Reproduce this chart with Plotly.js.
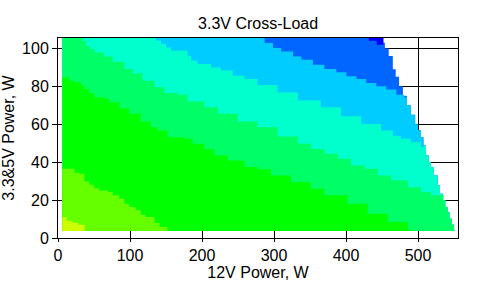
<!DOCTYPE html>
<html>
<head>
<meta charset="utf-8">
<script src="https://cdn.plot.ly/plotly-3.0.1.min.js"></script>
<style>html,body{margin:0;padding:0;background:#fff;}#chart{width:487px;height:286px;}</style>
</head>
<body>
<div id="chart"></div>
<script>
// ---- data (W) ----
const X_TICKS = [0, 100, 200, 300, 400, 500];
const Y_TICKS = [0, 20, 40, 60, 80, 100];
const BAND_COLORS = ["#ccff00", "#66ff00", "#00ff00", "#00ff66", "#00ffcc", "#00ccff", "#0066ff", "#0000ff"];

// measured extent of the load region
const XMIN = 6, YMIN = 3.7, YTOP = 106;
// right-hand limit of the load region (ascending 3.3&5V power)
const EDGE_X = [551, 550, 547, 543.5, 541, 537.8, 534.7, 530.5, 527, 521.8, 518, 515, 511, 507.5, 504, 500, 496, 490, 484.5, 479, 473.6, 469, 465, 459.3, 454, 451, 448.6];
const EDGE_Y = [3.7, 4, 7, 10.2, 13.7, 16.3, 20, 23.4, 27.7, 33, 37.4, 40, 43.5, 48.8, 53.2, 57, 60, 65, 70, 75, 80, 85, 89, 96, 100, 103, 106];

// boundaries between colour bands
const B1_X = [6, 10, 12, 20, 28, 37, 37];
const B1_Y = [11, 11, 9, 8, 7, 6, 3.7];
const B2_X = [6, 18, 22.7, 29.7, 36.6, 43.6, 50.5, 57.5, 69, 76, 85, 92, 99, 108, 115, 122, 134, 141, 152];
const B2_Y = [36.5, 36.5, 34.4, 33.9, 29.8, 28.1, 26.3, 25.1, 24.2, 22.5, 20.7, 18.1, 16.3, 14.6, 12.3, 11.1, 8.1, 5.8, 3.7];
const B3_X = [6, 13.5, 15.8, 22.7, 32, 36.6, 43.6, 50.5, 64.4, 71.4, 85.3, 99, 115, 129, 138.5, 152, 175.5, 187, 203, 217, 235.7, 259, 277, 296, 323.6, 351, 370, 402, 430, 458, 486, 490];
const B3_Y = [84.7, 84.7, 83, 82.1, 80.4, 78.6, 76.5, 74.2, 73.4, 71.6, 68.4, 65.5, 61.4, 58.4, 56.7, 53.2, 52.3, 49.7, 47, 43.5, 40.9, 37.4, 36.2, 33, 29.5, 26, 22.5, 18.1, 12.8, 8.4, 4.4, 3.7];
const B4_X = [28.8, 34.3, 39, 43.6, 50.5, 64.4, 76, 92.2, 103.8, 117.6, 134, 147.8, 166, 180, 203, 222, 249.6, 277, 305, 333, 351, 370, 388.5, 407, 425.5, 444, 462.5, 485.7, 504, 518, 535.5];
const B4_Y = [106, 104, 101.4, 99.7, 97.9, 95.8, 93, 89.1, 86.8, 83, 79.5, 76.5, 75.5, 72, 69, 65.5, 61.4, 58.4, 53.5, 49.7, 47, 44.4, 41.8, 38.3, 36.5, 33, 30.4, 26.8, 24.2, 22.5, 20.5];
const B5_X = [129, 136, 143, 150, 157, 171, 180, 184.7, 194, 212.5, 226, 242.6, 259, 277, 305, 333, 365, 393, 421, 448.6, 465, 476, 490, 504, 508];
const B5_Y = [106, 104, 102.3, 100.5, 98.8, 98.8, 96.2, 93.5, 91.8, 90, 88.3, 85.6, 83.9, 80.7, 76.8, 72.5, 69, 64.2, 60.2, 56.7, 54, 52.3, 50.5, 47.9, 48.5];
const B6_X = [272, 287, 298.6, 310, 326.4, 338, 354, 370, 386.7, 400.5, 414.5, 428, 442, 456, 470, 480.5];
const B6_Y = [106, 102.8, 100.2, 98.4, 95.8, 94, 91.4, 89.1, 87.4, 85.3, 83.9, 81.8, 80, 78.3, 75.6, 74.2];
const DEEP_X = [431.7, 449, 452, 442.6, 442.6, 431.7];
const DEEP_Y = [106, 106, 102, 101.6, 104, 104];

// ---- build band polygons ----
function regionBelow(bx, by) {
  const xs = [XMIN], ys = [YMIN];
  if (bx[0] > XMIN) { xs.push(XMIN); ys.push(YTOP); }
  for (let i = 0; i < bx.length; i++) { xs.push(bx[i]); ys.push(by[i]); }
  const lastY = by[by.length - 1];
  if (lastY > YMIN) {
    for (let i = EDGE_Y.length - 1; i >= 0; i--) {
      if (EDGE_Y[i] < lastY) { xs.push(EDGE_X[i]); ys.push(EDGE_Y[i]); }
    }
  }
  xs.push(XMIN); ys.push(YMIN);
  return [xs, ys];
}
function band(poly, color) {
  return {type: 'scatter', mode: 'lines', x: poly[0], y: poly[1], fill: 'toself',
    fillcolor: color, line: {width: 0, color: color, shape: 'hv'}, hoverinfo: 'skip', showlegend: false};
}
const full = regionBelow([XMIN, EDGE_X[EDGE_X.length - 1]], [YTOP, YTOP]);
const traces = [
  band(full, BAND_COLORS[6]),
  band([DEEP_X, DEEP_Y], BAND_COLORS[7]),
  band(regionBelow(B6_X, B6_Y), BAND_COLORS[5]),
  band(regionBelow(B5_X, B5_Y), BAND_COLORS[4]),
  band(regionBelow(B4_X, B4_Y), BAND_COLORS[3]),
  band(regionBelow(B3_X, B3_Y), BAND_COLORS[2]),
  band(regionBelow(B2_X, B2_Y), BAND_COLORS[1]),
  band(regionBelow(B1_X, B1_Y), BAND_COLORS[0]),
  {type: 'scatter', mode: 'lines', x: [null], y: [null], xaxis: 'x2', yaxis: 'y2', showlegend: false, hoverinfo: 'skip'}
];

const XR = [0, 555.5], YR = [0, 105.5];
const FONT = {family: 'Arial, "Liberation Sans", sans-serif', size: 16, color: '#000'};
const layout = {
  width: 487, height: 286,
  margin: {l: 58, r: 29, t: 38, b: 48, pad: 0},
  paper_bgcolor: '#fff', plot_bgcolor: '#fff',
  font: FONT,
  showlegend: false,
  title: {text: '3.3V Cross-Load', font: {family: FONT.family, size: 16, color: '#000'}, x: 0.53, xanchor: 'center', y: 0.918, yanchor: 'middle'},
  xaxis: {range: XR, tickvals: X_TICKS, ticktext: X_TICKS.map(String), ticks: 'outside', ticklen: 3, tickwidth: 1, tickcolor: '#000',
    showline: true, linecolor: '#000', linewidth: 1, mirror: true, showgrid: true, gridcolor: '#000', gridwidth: 1, zeroline: false,
    tickfont: FONT, title: {text: '12V Power, W', font: FONT, standoff: 3}, fixedrange: true},
  yaxis: {range: YR, tickvals: Y_TICKS, ticktext: Y_TICKS.map(String), ticks: 'outside', ticklen: 5, tickwidth: 1, tickcolor: '#000',
    showline: true, linecolor: '#000', linewidth: 1, mirror: true, showgrid: true, gridcolor: '#000', gridwidth: 1, zeroline: false,
    tickfont: FONT, title: {text: '3.3&5V Power, W', font: FONT, standoff: 5}, fixedrange: true},
  xaxis2: {range: XR, overlaying: 'x', anchor: 'y2', tickvals: X_TICKS, ticks: 'inside', ticklen: 6, tickcolor: '#000', showticklabels: false,
    showgrid: false, showline: false, zeroline: false, fixedrange: true},
  yaxis2: {range: YR, overlaying: 'y', anchor: 'x2', tickvals: Y_TICKS, ticks: 'inside', ticklen: 4, tickcolor: '#000', showticklabels: false,
    showgrid: false, showline: false, zeroline: false, fixedrange: true}
};
Plotly.newPlot('chart', traces, layout, {displayModeBar: false, staticPlot: true});
</script>
</body>
</html>
